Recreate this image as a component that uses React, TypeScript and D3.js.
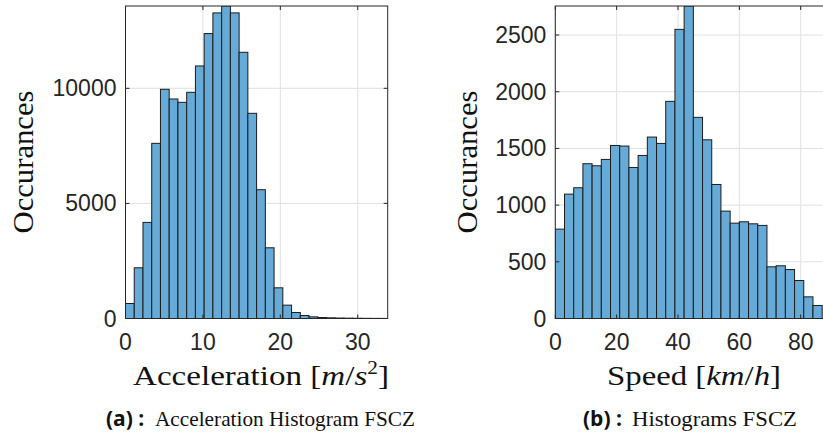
import React from "react";
import * as d3 from "d3";

// Acceleration histogram (bin width ~1.129 m/s^2, 30 bins)
const accBinWidth = 1.129;
const accCounts = [652, 2203, 4174, 7609, 9957, 9536, 9391, 9826, 10971, 12377, 13275, 13575, 13275, 11565, 8913, 5594, 3072, 1333, 580, 261, 130, 72, 43, 29, 20, 14, 10, 7, 5, 4];
const accXTicks = [0, 10, 20, 30];
const accYTicks = [0, 5000, 10000];

// Speed histogram (bin width 3 km/h, 29 bins)
const spdBinWidth = 3;
const spdCounts = [788, 1097, 1153, 1365, 1347, 1403, 1526, 1521, 1332, 1438, 1600, 1544, 1915, 2550, 2756, 1774, 1576, 1182, 947, 841, 853, 835, 821, 456, 465, 432, 335, 191, 115];
const spdXTicks = [0, 20, 40, 60, 80];
const spdYTicks = [0, 500, 1000, 1500, 2000, 2500];

const BAR = "#66aad7";
const EDGE = "#1c1c1c";
const AX = "#262626";
const GRID = "#e0e0e0";
const SANS = "'Liberation Sans', Arial, Helvetica, sans-serif";
const SERIF = "'Liberation Serif', 'Times New Roman', serif";

type PanelProps = {
  counts: number[];
  binWidth: number;
  xDomain: [number, number];
  yMax: number;
  xRange: [number, number];
  xTicks: number[];
  yTicks: number[];
  yLabelX: number;
  xLabel: React.ReactNode;
  xLabelLen: number;
  xLabelX: number;
  clipId: string;
};

const TOP = 6;
const BOTTOM = 318.5;

function Panel(p: PanelProps) {
  const x = d3.scaleLinear().domain(p.xDomain).range(p.xRange);
  const y = d3.scaleLinear().domain([0, p.yMax]).range([BOTTOM, TOP]);
  const [x0, x1] = p.xRange;
  const tl = 4;
  return (
    <g>
      <defs>
        <clipPath id={p.clipId}>
          <rect x={x0} y={TOP} width={x1 - x0} height={BOTTOM - TOP} />
        </clipPath>
      </defs>
      {/* grid */}
      {p.xTicks.map((t) => (
        <line key={"gx" + t} x1={x(t)} x2={x(t)} y1={TOP} y2={BOTTOM} stroke={GRID} strokeWidth={1} />
      ))}
      {p.yTicks.map((t) => (
        <line key={"gy" + t} x1={x0} x2={x1} y1={y(t)} y2={y(t)} stroke={GRID} strokeWidth={1} />
      ))}
      {/* bars */}
      <g clipPath={`url(#${p.clipId})`}>
        {p.counts.map((c, i) => (
          <rect
            key={i}
            x={x(i * p.binWidth)}
            y={y(c)}
            width={x((i + 1) * p.binWidth) - x(i * p.binWidth)}
            height={BOTTOM - y(c)}
            fill={BAR}
            stroke={EDGE}
            strokeWidth={1}
          />
        ))}
      </g>
      {/* box */}
      <rect x={x0} y={TOP} width={x1 - x0} height={BOTTOM - TOP} fill="none" stroke={AX} strokeWidth={1} />
      {/* ticks */}
      {p.xTicks.map((t) => (
        <g key={"tx" + t}>
          <line x1={x(t)} x2={x(t)} y1={BOTTOM} y2={BOTTOM - tl} stroke={AX} />
          <line x1={x(t)} x2={x(t)} y1={TOP} y2={TOP + tl} stroke={AX} />
          <text x={x(t)} y={350} textAnchor="middle" fontFamily={SANS} fontSize={23} fill={AX}>
            {t}
          </text>
        </g>
      ))}
      {p.yTicks.map((t) => (
        <g key={"ty" + t}>
          <line x1={x0} x2={x0 + tl} y1={y(t)} y2={y(t)} stroke={AX} />
          <line x1={x1} x2={x1 - tl} y1={y(t)} y2={y(t)} stroke={AX} />
          <text x={x0 - 9} y={y(t) + 8} textAnchor="end" fontFamily={SANS} fontSize={23} fill={AX}>
            {t}
          </text>
        </g>
      ))}
      {/* y label */}
      <text
        transform={`translate(${p.yLabelX},162) rotate(-90)`}
        textAnchor="middle"
        fontFamily={SERIF}
        fontSize={29}
        fill="#111"
        textLength={143}
        lengthAdjust="spacingAndGlyphs"
      >
        Occurances
      </text>
      {/* x label */}
      <text
        x={p.xLabelX}
        y={385}
        fontFamily={SERIF}
        fontSize={28}
        fill="#111"
        textLength={p.xLabelLen}
        lengthAdjust="spacingAndGlyphs"
      >
        {p.xLabel}
      </text>
    </g>
  );
}

export default function App() {
  return (
    <svg
      width={823}
      height={439}
      style={{ position: "absolute", left: 0, top: 0, background: "#fff" }}
    >
      <rect width={823} height={439} fill="#fff" />
      <Panel
        counts={accCounts}
        binWidth={accBinWidth}
        xDomain={[0, 30 * accBinWidth]}
        yMax={13575}
        xRange={[125.5, 387.7]}
        xTicks={accXTicks}
        yTicks={accYTicks}
        yLabelX={33}
        xLabel={
          <>
            Acceleration [<tspan fontStyle="italic">m</tspan>/<tspan fontStyle="italic">s</tspan>
            <tspan fontSize={18} dy={-11}>2</tspan>
            <tspan dy={11}>]</tspan>
          </>
        }
        xLabelLen={256}
        xLabelX={133}
        clipId="c1"
      />
      <Panel
        counts={spdCounts}
        binWidth={spdBinWidth}
        xDomain={[0, 89]}
        yMax={2756}
        xRange={[555.3, 555.3 + 89 * 3.0675]}
        xTicks={spdXTicks}
        yTicks={spdYTicks}
        yLabelX={477}
        xLabel={
          <>
            Speed [<tspan fontStyle="italic">km</tspan>/<tspan fontStyle="italic">h</tspan>]
          </>
        }
        xLabelLen={174}
        xLabelX={607}
        clipId="c2"
      />
      {/* captions */}
      <text x={106} y={426} fontSize={21} fontFamily="'Open Sans', sans-serif" fontWeight="bold" fill="#111">
        (a) :
      </text>
      <text x={155} y={426} fontSize={21} fontFamily={SERIF} fill="#111" textLength={260} lengthAdjust="spacingAndGlyphs">
        Acceleration Histogram FSCZ
      </text>
      <text x={583} y={426} fontSize={21} fontFamily="'Open Sans', sans-serif" fontWeight="bold" fill="#111">
        (b) :
      </text>
      <text x={632} y={426} fontSize={21} fontFamily={SERIF} fill="#111" textLength={165} lengthAdjust="spacingAndGlyphs">
        Histograms FSCZ
      </text>
    </svg>
  );
}
